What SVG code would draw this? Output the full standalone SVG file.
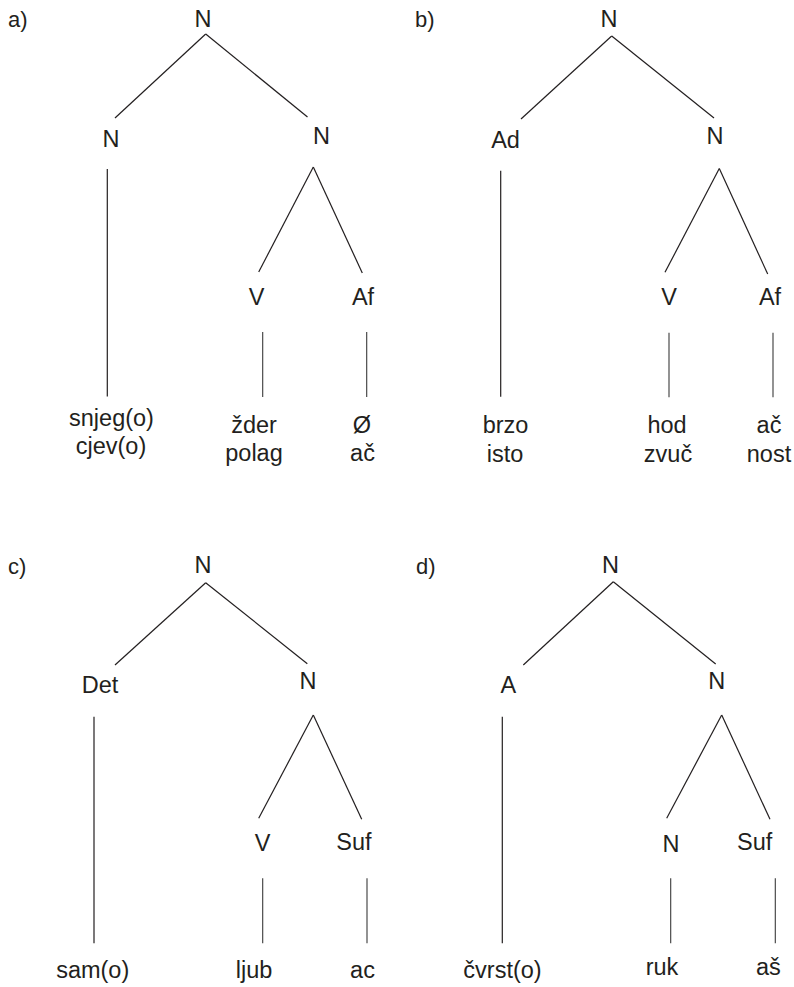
<svg xmlns="http://www.w3.org/2000/svg" width="794" height="987" viewBox="0 0 794 987">
<style>
text{font-family:"Liberation Sans",Arial,sans-serif;font-size:23.5px;fill:#231f20;text-anchor:middle}
text.lbl{text-anchor:start;font-size:22px}
#edges line{stroke:#231f20;stroke-width:1.2;fill:none}
#edges line.v{stroke:#3a3a3a;stroke-width:1.1}
</style>
<rect width="794" height="987" fill="#fff"/>
<g id="edges">
<line x1="205.7" y1="34" x2="115" y2="118"/>
<line x1="205.7" y1="34" x2="307.5" y2="117"/>
<line x1="107.3" y1="169" x2="107.3" y2="396.5"/>
<line x1="313.3" y1="167" x2="258.7" y2="272"/>
<line x1="313.3" y1="167" x2="362.3" y2="273"/>
<line class="v" x1="262.7" y1="332" x2="262.7" y2="397"/>
<line class="v" x1="366.7" y1="332" x2="366.7" y2="397"/>
<line x1="611.7" y1="36" x2="521" y2="119"/>
<line x1="611.7" y1="36" x2="714" y2="118"/>
<line x1="500.7" y1="170.7" x2="500.7" y2="396.7"/>
<line x1="719.3" y1="168.5" x2="665" y2="272.3"/>
<line x1="719.3" y1="168.5" x2="767.7" y2="274"/>
<line class="v" x1="669" y1="332.7" x2="669" y2="397.3"/>
<line class="v" x1="773" y1="332.7" x2="773" y2="397.3"/>
<line x1="205.7" y1="582.7" x2="115" y2="665"/>
<line x1="205.7" y1="582.7" x2="307.3" y2="663.7"/>
<line x1="94" y1="716.7" x2="94" y2="943.3"/>
<line x1="313.3" y1="715" x2="258.7" y2="818.3"/>
<line x1="313.3" y1="715" x2="361.7" y2="819.3"/>
<line class="v" x1="262.7" y1="878.3" x2="262.7" y2="943.3"/>
<line class="v" x1="367" y1="878.3" x2="367" y2="943.3"/>
<line x1="613.3" y1="581.7" x2="523.3" y2="665"/>
<line x1="613.3" y1="581.7" x2="715.7" y2="664"/>
<line x1="502.3" y1="716.7" x2="502.3" y2="943.3"/>
<line x1="721.7" y1="715" x2="666.7" y2="818.3"/>
<line x1="721.7" y1="715" x2="770" y2="819.3"/>
<line class="v" x1="670.7" y1="878.3" x2="670.7" y2="943.3"/>
<line class="v" x1="775.3" y1="878.3" x2="775.3" y2="943.3"/>
</g>
<text class="lbl" x="8" y="27">a)</text>
<text class="lbl" x="415" y="27">b)</text>
<text class="lbl" x="8" y="574">c)</text>
<text class="lbl" x="416" y="574">d)</text>
<g id="a-root"><text x="203" y="26.5">N</text></g>
<g id="a-left"><text x="111" y="146.5">N</text></g>
<g id="a-right"><text x="321.5" y="143.5">N</text></g>
<g id="a-v"><text x="256.7" y="305">V</text></g>
<g id="a-af"><text x="363" y="305">Af</text></g>
<g id="a-leaf-left"><text x="111.5" y="426">snjeg(o)</text><text x="111" y="454">cjev(o)</text></g>
<g id="a-leaf-v"><text x="254" y="433">žder</text><text x="254" y="461">polag</text></g>
<g id="a-leaf-af"><text x="362" y="433">Ø</text><text x="362.5" y="461">ač</text></g>
<g id="b-root"><text x="609" y="26.7">N</text></g>
<g id="b-left"><text x="505.5" y="147.7">Ad</text></g>
<g id="b-right"><text x="715" y="144">N</text></g>
<g id="b-v"><text x="669" y="305">V</text></g>
<g id="b-af"><text x="770" y="305">Af</text></g>
<g id="b-leaf-left"><text x="505.5" y="433">brzo</text><text x="505" y="461.5">isto</text></g>
<g id="b-leaf-v"><text x="667" y="433">hod</text><text x="668" y="461.5">zvuč</text></g>
<g id="b-leaf-af"><text x="769" y="433">ač</text><text x="769" y="461.5">nost</text></g>
<g id="c-root"><text x="203" y="573.3">N</text></g>
<g id="c-left"><text x="100" y="693.3">Det</text></g>
<g id="c-right"><text x="308" y="689.3">N</text></g>
<g id="c-v"><text x="262.5" y="851">V</text></g>
<g id="c-suf"><text x="354" y="850">Suf</text></g>
<g id="c-leaf-left"><text x="92.7" y="978">sam(o)</text></g>
<g id="c-leaf-v"><text x="254" y="978">ljub</text></g>
<g id="c-leaf-suf"><text x="362.5" y="978">ac</text></g>
<g id="d-root"><text x="610.5" y="572.7">N</text></g>
<g id="d-left"><text x="508.3" y="693.3">A</text></g>
<g id="d-right"><text x="716.7" y="689.3">N</text></g>
<g id="d-n"><text x="671" y="851.7">N</text></g>
<g id="d-suf"><text x="754.7" y="850">Suf</text></g>
<g id="d-leaf-left"><text x="502.5" y="978">čvrst(o)</text></g>
<g id="d-leaf-n"><text x="662" y="975">ruk</text></g>
<g id="d-leaf-suf"><text x="768.3" y="975">aš</text></g>
</svg>
